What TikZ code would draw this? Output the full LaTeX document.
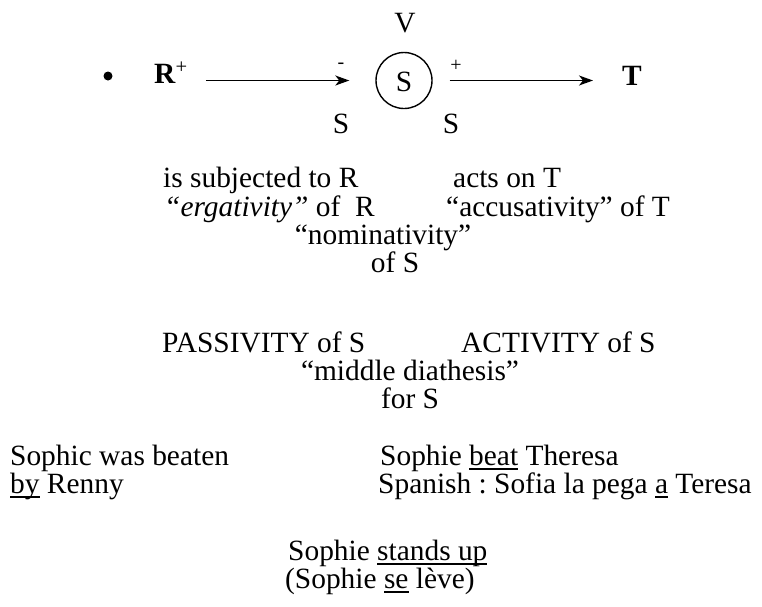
\documentclass[tikz,border=0pt]{standalone}
\usepackage{fontspec}
\setmainfont{Liberation Serif}
\usetikzlibrary{arrows.meta}
\newsavebox\ulbox
\newcommand\myul[1]{\sbox\ulbox{#1}\leavevmode\rlap{\rule[-4.5pt]{\wd\ulbox}{1.2pt}}\usebox\ulbox}
\frenchspacing
\begin{document}
\begin{tikzpicture}[x=1pt,y=-1pt,
  txt/.style={inner sep=0pt, font=\fontsize{29.4}{28}\selectfont\frenchspacing},
  sml/.style={inner sep=0pt, font=\fontsize{20}{20}\selectfont},
  arr/.style={line width=1.5pt, -{Stealth[length=14pt,width=10pt,inset=4pt]}}]
\useasboundingbox (0,0) rectangle (762,606);
% top row
\node[circle,fill,inner sep=0pt,minimum size=9pt] (bul) at (108,76) {};
\node[txt,anchor=base west] (R) at (154,83) {\textbf{R}\textsuperscript{+}};
\node[circle,draw,line width=1.4pt,minimum size=56pt,inner sep=0pt] (c) at (404,80.5) {};
\node[txt,anchor=base] (s) at (404,91) {S};
\node[txt,anchor=base] (V) at (405,32) {V};
\node[txt,anchor=base west] (T) at (622,85) {\textbf{T}};
\draw[arr,shorten <=18pt,shorten >=26pt] (R.east |- c.west) -- (c.west);
\draw[arr,shorten <=17pt,shorten >=29pt] (c.east) -- (T.west |- c.east);
\node[sml] (minus) at (341,66) {-};
\node[sml] (plus) at (456,66) {+};
\node[txt,anchor=base] (sl) at (341,133) {S};
\node[txt,anchor=base] (sr) at (451,133) {S};
% descriptions
\node[txt,anchor=base west] (subj) at (163,187) {is subjected to R};
\node[txt,anchor=base west] (acts) at (453,187) {acts on T};
\node[txt,anchor=base west] (erg) at (164,216) {\textit{“ergativity”} of\ \ R};
\node[txt,anchor=base west] (acc) at (446,216) {“accusativity” of T};
\node[txt,anchor=base] (nom) at (383,244) {“nominativity”};
\node[txt,anchor=base] (nomS) at (395,272) {of S};
\node[txt,anchor=base west] (pas) at (162,352) {PASSIVITY of S};
\node[txt,anchor=base west] (act) at (461,352) {ACTIVITY of S};
\node[txt,anchor=base] (mid) at (410,380) {“middle diathesis”};
\node[txt,anchor=base] (midS) at (410,408) {for S};
% examples
\node[txt,anchor=base west] (ex1) at (10,465) {Sophic was beaten};
\node[txt,anchor=base west] (ex1b) at (10,493) {\myul{by} Renny};
\node[txt,anchor=base west] (ex2) at (380,465) {Sophie \myul{beat} Theresa};
\node[txt,anchor=base west] (ex2b) at (378,493) {Spanish : Sofia la pega \myul{a} Teresa};
\node[txt,anchor=base west] (ex3) at (288,560) {Sophie \myul{stands up}};
\node[txt,anchor=base west] (ex3b) at (285,588) {(Sophie \myul{se} lève)};
\end{tikzpicture}
\end{document}
